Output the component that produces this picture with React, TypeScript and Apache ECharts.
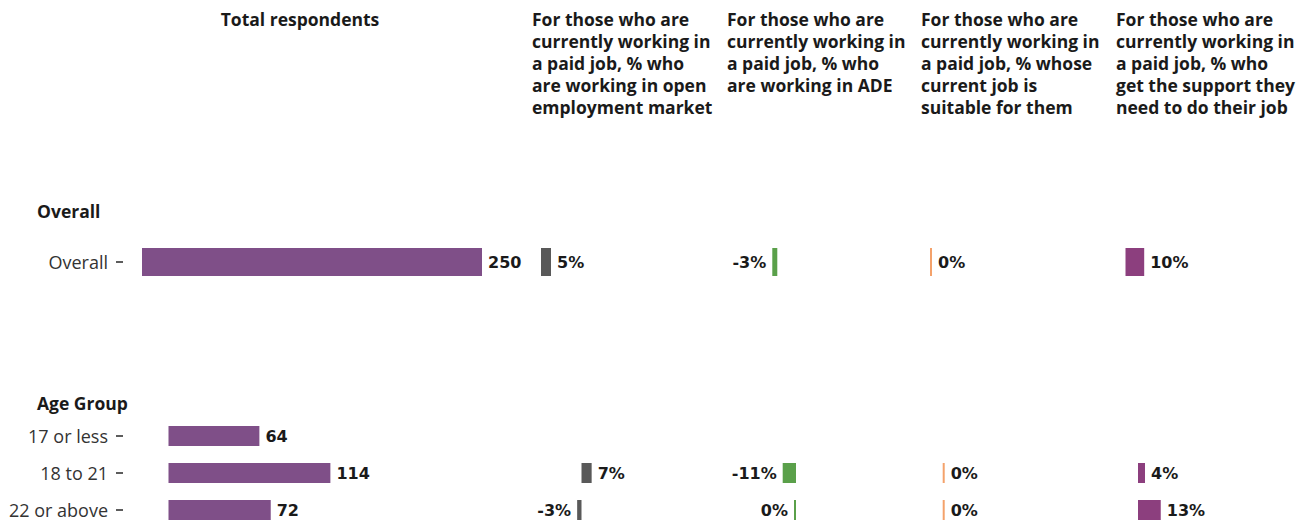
import React, { useEffect, useRef } from 'react';
import * as echarts from 'echarts';

// ---- Data ----
const overallCategories = ['Overall'];
const ageCategories = ['17 or less', '18 to 21', '22 or above'];
const sectionTitles = ['Overall', 'Age Group'];

const totalOverall = [250];
const totalAge = [64, 114, 72];
const openEmploymentOverall = [5];
const openEmploymentAge = [null, 7, -3];
const adeOverall = [-3];
const adeAge = [null, -11, -0.2];
const suitableOverall = [0];
const suitableAge = [null, 0, 0];
const supportOverall = [10];
const supportAge = [null, 4, 13];

const columnHeaders = [
  'Total respondents',
  'For those who are\ncurrently working in\na paid job, % who\nare working in open\nemployment market',
  'For those who are\ncurrently working in\na paid job, % who\nare working in ADE',
  'For those who are\ncurrently working in\na paid job, % whose\ncurrent job is\nsuitable for them',
  'For those who are\ncurrently working in\na paid job, % who\nget the support they\nneed to do their job',
];

// ---- Layout / style ----
const columns = [
  { color: '#7f4f88', left: 123, right: 525, zero: [142, 168.5], k: [1.36, 1.42], pct: false, data: [totalOverall, totalAge], headerX: 300, center: true },
  { color: '#595959', left: 530, right: 720, zero: [541, 581.5], k: [2.0, 1.45], pct: true, data: [openEmploymentOverall, openEmploymentAge], headerX: 532, center: false },
  { color: '#5aa04a', left: 725, right: 915, zero: [777.3, 796], k: [1.67, 1.21], pct: true, data: [adeOverall, adeAge], headerX: 727, center: false },
  { color: '#f4a26b', left: 920, right: 1110, zero: [930, 942.7], k: [1.6, 1.5], pct: true, data: [suitableOverall, suitableAge], headerX: 921, center: false },
  { color: '#8c3f7e', left: 1115, right: 1300, zero: [1125.5, 1138], k: [1.87, 1.75], pct: true, data: [supportOverall, supportAge], headerX: 1116, center: false },
];

const sections = [
  { categories: overallCategories, top: 242, band: 40, barWidth: 28, titleY: 211 },
  { categories: ageCategories, top: 417.5, band: 37, barWidth: 20, titleY: 403 },
];

const HEADER_FONT = '"Open Sans", Inter, sans-serif';
const LABEL_FONT = '"Open Sans", "Liberation Sans", sans-serif';
const VALUE_FONT = '"DejaVu Sans", sans-serif';

function buildOption() {
  const grid: any[] = [];
  const xAxis: any[] = [];
  const yAxis: any[] = [];
  const series: any[] = [];

  sections.forEach((sec, s) => {
    columns.forEach((col, c) => {
      const idx = grid.length;
      const zero = col.zero[s];
      const k = col.k[s];
      grid.push({
        left: col.left,
        width: col.right - col.left,
        top: sec.top,
        height: sec.band * sec.categories.length,
        containLabel: false,
      });
      xAxis.push({
        type: 'value',
        gridIndex: idx,
        min: (col.left - zero) / k,
        max: (col.right - zero) / k,
        show: false,
        splitLine: { show: false },
      });
      yAxis.push({
        type: 'category',
        gridIndex: idx,
        data: sec.categories,
        inverse: true,
        position: 'left',
        axisLine: { show: false, onZero: false },
        axisTick: {
          show: c === 0,
          alignWithLabel: true,
          length: 7,
          lineStyle: { color: '#333', width: 1.6 },
        },
        axisLabel: {
          show: c === 0,
          margin: 15,
          fontSize: 18,
          lineHeight: 18,
          color: '#333',
          fontFamily: LABEL_FONT,
        },
        splitLine: { show: false },
      });
      const values = col.data[s];
      series.push({
        type: 'bar',
        xAxisIndex: idx,
        yAxisIndex: idx,
        barWidth: sec.barWidth,
        barMinHeight: 2,
        itemStyle: { color: col.color },
        data: values.map((v: number | null) =>
          v === null
            ? null
            : { value: v, label: { position: v < 0 ? 'left' : 'right' } }
        ),
        label: {
          show: true,
          distance: 6,
          fontSize: 16,
          lineHeight: 16,
          fontWeight: 'bold',
          color: '#1a1a1a',
          fontFamily: VALUE_FONT,
          formatter: (p: any) =>
            col.pct ? `${Math.round(p.value)}%` : `${p.value}`,
        },
      });
    });
  });

  const graphic: any[] = [];
  columns.forEach((col, c) => {
    graphic.push({
      type: 'text',
      x: col.headerX,
      y: 8,
      style: {
        text: columnHeaders[c],
        font: `bold 17.5px ${HEADER_FONT}`,
        fill: '#1a1a1a',
        lineHeight: 22,
        align: col.center ? 'center' : 'left',
        verticalAlign: 'top',
      },
    });
  });
  sections.forEach((sec, s) => {
    graphic.push({
      type: 'text',
      x: 37,
      y: sec.titleY,
      style: {
        text: sectionTitles[s],
        font: `bold 17.5px ${HEADER_FONT}`,
        fill: '#1a1a1a',
        align: 'left',
        verticalAlign: 'middle',
      },
    });
  });

  return {
    animation: false,
    backgroundColor: '#ffffff',
    grid,
    xAxis,
    yAxis,
    series,
    graphic,
  };
}

export default function App() {
  const ref = useRef<HTMLDivElement>(null);
  useEffect(() => {
    if (!ref.current) return;
    const chart = echarts.init(ref.current, undefined, { renderer: 'svg' });
    chart.setOption(buildOption() as any);
    return () => chart.dispose();
  }, []);
  return (
    <div
      style={{ position: 'absolute', left: 0, top: 0, width: 1306, height: 521, overflow: 'hidden' }}
    >
      <div ref={ref} style={{ width: 1306, height: 560 }} />
    </div>
  );
}
